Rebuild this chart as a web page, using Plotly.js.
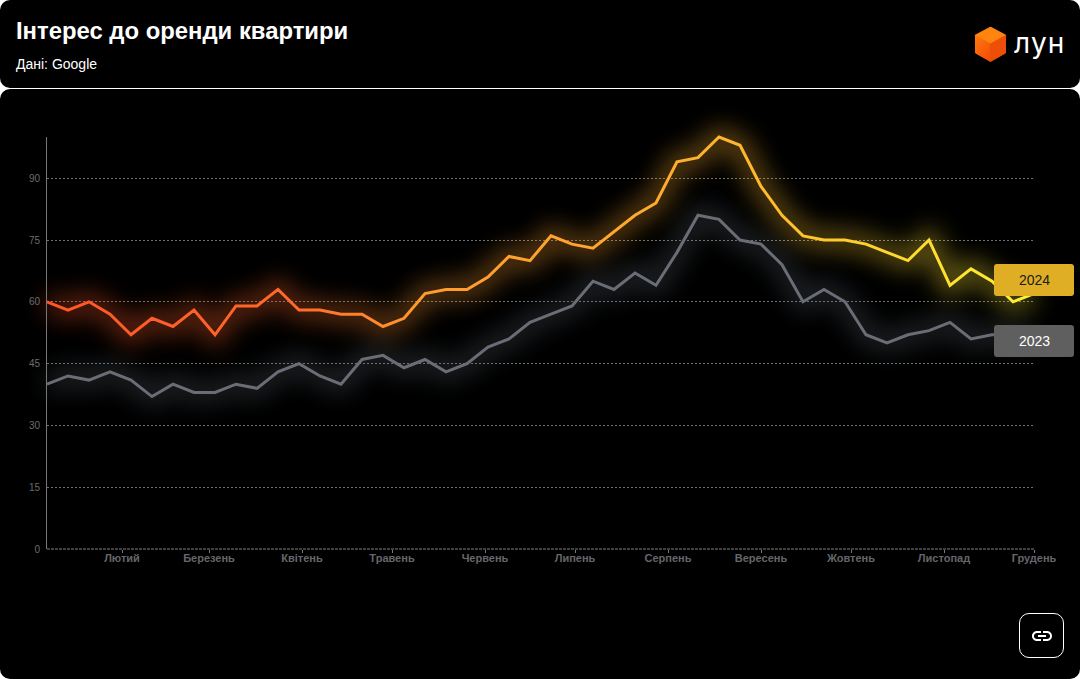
<!DOCTYPE html>
<html lang="uk"><head><meta charset="utf-8">
<script src="https://cdn.plot.ly/plotly-3.0.1.min.js"></script>
<style>
html,body{margin:0;padding:0;width:1080px;height:679px;overflow:hidden;background:#fff;font-family:"Liberation Sans",Arial,sans-serif}
.card{position:absolute;left:0;width:1080px;background:#000;border-radius:10px}
#chart{position:absolute;left:0;top:0;width:1080px;height:679px}
#logo{position:absolute;left:974px;top:26px}
#brand{position:absolute;left:1014px;top:23px;color:#fff;font:400 28px Inter,sans-serif;line-height:40px;letter-spacing:1.2px}
#link{position:absolute;left:1019px;top:613px;width:43px;height:43px;border:1px solid #fff;border-radius:10px}
#link svg{position:absolute;left:10px;top:10px}
</style></head><body>
<div class="card" style="top:0;height:88px"></div>
<div class="card" style="top:89px;height:590px"></div>
<div id="chart"></div>
<svg id="logo" width="33" height="37" viewBox="0 0 33 37">
<defs><linearGradient id="cl" x1="0" y1="0" x2="0.6" y2="1"><stop offset="0" stop-color="#ff7a08"/><stop offset="1" stop-color="#f5500a"/></linearGradient></defs>
<path d="M16.5 1.5 L31.5 9.5 L16.5 18 L1.5 9.5Z" fill="#ff8410" stroke="#ff8410" stroke-linejoin="round" stroke-width="1.5"/>
<path d="M1.5 9.5 L16.5 18 L16.5 35.5 L1.5 27Z" fill="url(#cl)" stroke="url(#cl)" stroke-linejoin="round" stroke-width="1"/>
<path d="M31.5 9.5 L16.5 18 L16.5 35.5 L31.5 27Z" fill="#ee4f08" stroke="#ee4f08" stroke-linejoin="round" stroke-width="1"/>
</svg>
<div id="brand">лун</div>
<div id="link"><svg width="24" height="24" viewBox="0 0 24 24" fill="#fff"><path d="M3.9 12c0-1.71 1.39-3.1 3.1-3.1h4V7H7c-2.76 0-5 2.24-5 5s2.24 5 5 5h4v-1.9H7c-1.71 0-3.1-1.39-3.1-3.1zM8 13h8v-2H8v2zm9-6h-4v1.9h4c1.71 0 3.1 1.39 3.1 3.1s-1.39 3.1-3.1 3.1h-4V17h4c2.76 0 5-2.24 5-5s-2.24-5-5-5z"/></svg></div>
<script>
const weeks = ["2024-01-07","2024-01-14","2024-01-21","2024-01-28","2024-02-04","2024-02-11","2024-02-18","2024-02-25","2024-03-03","2024-03-10","2024-03-17","2024-03-24","2024-03-31","2024-04-07","2024-04-14","2024-04-21","2024-04-28","2024-05-05","2024-05-12","2024-05-19","2024-05-26","2024-06-02","2024-06-09","2024-06-16","2024-06-23","2024-06-30","2024-07-07","2024-07-14","2024-07-21","2024-07-28","2024-08-04","2024-08-11","2024-08-18","2024-08-25","2024-09-01","2024-09-08","2024-09-15","2024-09-22","2024-09-29","2024-10-06","2024-10-13","2024-10-20","2024-10-27","2024-11-03","2024-11-10","2024-11-17","2024-11-24","2024-12-01"];
const values2024 = [60,58,60,57,52,56,54,58,52,59,59,63,58,58,57,57,54,56,62,63,63,66,71,70,76,74,73,77,81,84,94,95,100,98,88,81,76,75,75,74,72,70,75,64,68,65,60,62];
const values2023 = [40,42,41,43,41,37,40,38,38,40,39,43,45,42,40,46,47,44,46,43,45,49,51,55,57,59,65,63,67,64,72,81,80,75,74,69,60,63,60,52,50,52,53,55,51,52,52,50];
const monthTicks = ["2024-02-01","2024-03-01","2024-04-01","2024-05-01","2024-06-01","2024-07-01","2024-08-01","2024-09-01","2024-10-01","2024-11-01","2024-12-01"];
const monthLabels = ["Лютий","Березень","Квітень","Травень","Червень","Липень","Серпень","Вересень","Жовтень","Листопад","Грудень"];
const yTicks = [0,15,30,45,60,75,90];

const W=1080,H=679,L=47,R=1034,T=137,B=549;
const px=v=>(v-L)/(R-L), py=v=>(B-v)/(B-T);
function roundRect(x0,y0,x1,y1,r){
  const X=px, Y=py, rx=r/(R-L), ry=r/(B-T), a=X(x0),b=X(x1),t=Y(y0),u=Y(y1);
  return `M${a+rx},${t} L${b-rx},${t} Q${b},${t} ${b},${t-ry} L${b},${u+ry} Q${b},${u} ${b-rx},${u} L${a+rx},${u} Q${a},${u} ${a},${u+ry} L${a},${t-ry} Q${a},${t} ${a+rx},${t} Z`;
}
const data=[
 {type:"scatter",mode:"lines",name:"2023",x:weeks,y:values2023,cliponaxis:false,line:{color:"#6a6d75",width:3,shape:"linear"},hoverinfo:"x+y"},
 {type:"scatter",mode:"lines",name:"2024",x:weeks,y:values2024,cliponaxis:false,line:{color:"#ffa52e",width:3,shape:"linear"},hoverinfo:"x+y"}
];
const layout={
 width:W,height:H,showlegend:false,paper_bgcolor:"rgba(0,0,0,0)",plot_bgcolor:"rgba(0,0,0,0)",
 margin:{l:L,r:W-R,t:T,b:H-B,pad:0},
 font:{family:'"Liberation Sans",Arial,sans-serif'},
 xaxis:{type:"date",range:["2024-01-07","2024-12-01"],tickmode:"array",tickvals:monthTicks,ticktext:monthLabels,ticks:"outside",ticklen:3,tickwidth:1,tickcolor:"#777",
   showgrid:false,showline:false,zeroline:false,tickfont:{size:11,color:"#66666c",family:'"Liberation Sans",Arial,sans-serif',weight:700},ticklabelstandoff:-4},
 yaxis:{range:[0,100],tickmode:"array",tickvals:yTicks,ticks:"",showgrid:true,griddash:"2px,2px",gridcolor:"#707070",gridwidth:1,showline:true,linecolor:"#777",linewidth:1,zeroline:false,tickfont:{size:10,color:"#6c6c6c"},ticklabelstandoff:4},
 shapes:[
  {type:"line",xref:"paper",yref:"paper",x0:0,x1:1,y0:0,y1:0,line:{color:"#808080",width:1,dash:"3px,1px"},layer:"below"},
  {type:"path",xref:"paper",yref:"paper",path:roundRect(994,264,1074,296,3),fillcolor:"#dfae24",line:{width:0},layer:"above"},
  {type:"path",xref:"paper",yref:"paper",path:roundRect(994,325,1074,357,3),fillcolor:"#5f5f5f",line:{width:0},layer:"above"}
 ],
 annotations:[
  {xref:"paper",yref:"paper",x:px(14),y:py(30),xanchor:"left",yanchor:"middle",text:"<b>Інтерес до оренди квартири</b>",showarrow:false,font:{size:23.85,color:"#fff"}},
  {xref:"paper",yref:"paper",x:px(14),y:py(64),xanchor:"left",yanchor:"middle",text:"Дані: Google",showarrow:false,font:{size:14,color:"#fff"}},
  {xref:"paper",yref:"paper",x:px(1034),y:py(279.5),xanchor:"center",yanchor:"middle",text:"2024",showarrow:false,font:{size:14,color:"#1a1a1a"}},
  {xref:"paper",yref:"paper",x:px(1034),y:py(340.5),xanchor:"center",yanchor:"middle",text:"2023",showarrow:false,font:{size:14,color:"#fff"}}
 ]
};
Plotly.newPlot("chart",data,layout,{displayModeBar:false,staticPlot:true}).then(()=>{
  const svg=document.querySelector("#chart .main-svg");
  const NS="http://www.w3.org/2000/svg";
  const defs=document.createElementNS(NS,"defs");
  const w=R-L;
  defs.innerHTML=`
  <linearGradient id="hot" gradientUnits="userSpaceOnUse" x1="0" y1="0" x2="${w}" y2="0">
   <stop offset="0" stop-color="#ff5526"/><stop offset="0.25" stop-color="#ff6a2a"/>
   <stop offset="0.38" stop-color="#ff9a30"/><stop offset="0.6" stop-color="#ffa92e"/>
   <stop offset="0.72" stop-color="#ffb92d"/><stop offset="0.85" stop-color="#ffd52e"/>
   <stop offset="1" stop-color="#fff033"/></linearGradient>
  <filter id="glow" filterUnits="userSpaceOnUse" x="-60" y="-120" width="1200" height="800"><feGaussianBlur stdDeviation="12"/></filter>`;
  svg.insertBefore(defs,svg.firstChild);
  document.querySelectorAll("#chart .cartesianlayer [clip-path], #chart .scatterlayer[clip-path]").forEach(n=>n.removeAttribute("clip-path"));
  const traces=document.querySelectorAll("#chart .scatterlayer .trace");
  traces.forEach((tr,i)=>{
    const p=tr.querySelector("path.js-line");
    const stroke=i===1?"url(#hot)":"#6f7c8a";
    if(i===1) p.style.stroke="url(#hot)";
    const g=p.cloneNode(true);
    g.style.stroke=stroke;g.style.strokeWidth="18px";g.style.opacity=i===1?"0.42":"0.3";
    g.setAttribute("filter","url(#glow)");
    p.parentNode.insertBefore(g,p);
  });
});
</script>
</body></html>
